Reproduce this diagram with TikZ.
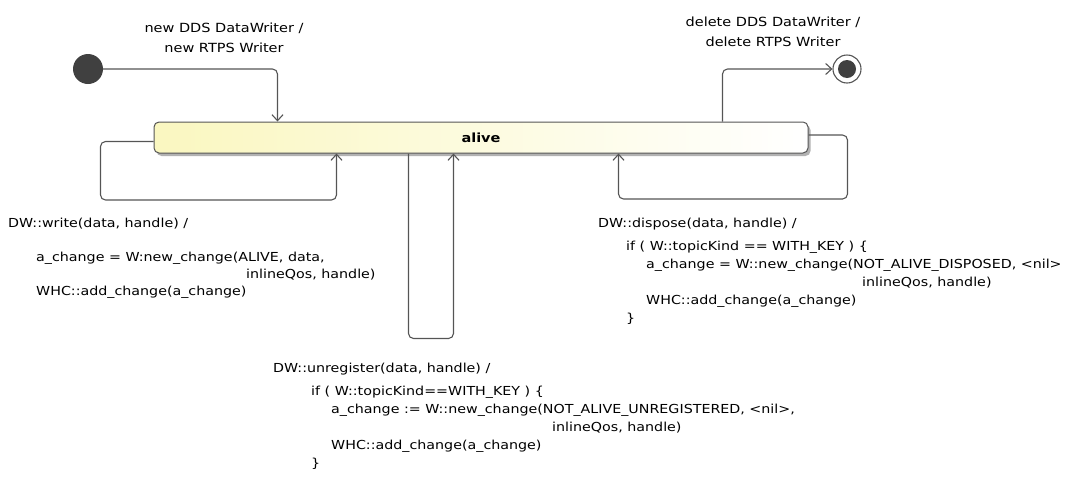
\documentclass[tikz,border=0pt]{standalone}
\usepackage{fontspec}
\setmainfont{DejaVu Sans}[FakeStretch=1.15]
\usepackage{tikz}
\usetikzlibrary{arrows.meta,positioning,shadows}

\definecolor{lineg}{RGB}{85,85,85}
\definecolor{dotg}{RGB}{64,64,64}
\definecolor{alivel}{RGB}{250,247,192}

\tikzset{
	trans/.style={draw=lineg, line width=1.1pt, rounded corners=5pt, -{Straight Barb[length=6pt,width=11pt]}},
	initst/.style={circle, fill=dotg, minimum size=30pt, inner sep=0pt},
	finalst/.style={circle, draw=lineg, line width=1.1pt, fill=white, minimum size=28pt, inner sep=0pt,
		path picture={\fill[dotg] (path picture bounding box.center) circle (9pt);}},
	alivest/.style={rectangle, rounded corners=5pt, draw=lineg, line width=1pt, left color=alivel, right color=white,
		minimum width=654pt, minimum height=31pt, inner sep=0pt, font=\fontsize{12.6}{16}\selectfont\bfseries,
		drop shadow={shadow xshift=2.5pt, shadow yshift=-3pt, fill=black, opacity=.3}},
	lbl/.style={anchor=base west, inner sep=0pt, font=\fontsize{12.4}{18}\selectfont},
	evt/.style={align=center, inner sep=0pt, font=\fontsize{12.6}{20}\selectfont}
}

\begin{document}
\begin{tikzpicture}[x=1pt,y=-1pt]
	\useasboundingbox (0,0) rectangle (1076,480);

	% states
	\node[initst] (init) at (88,69) {};
	\node[alivest] (alive) at (481,137.5) {alive};
	\node[finalst] (final) at (847,69) {};

	% create / delete
	\draw[trans] (init) -| ([xshift=124pt]alive.north west);
	\node[evt] (create) at (224,38) {new DDS DataWriter /\\ new RTPS Writer};
	\draw[trans] ([xshift=569pt]alive.north west) |- (final);
	\node[evt] (delete) at (773,32) {delete DDS DataWriter /\\ delete RTPS Writer};

	% self transitions
	\draw[trans] ([yshift=-4pt]alive.west) -- ++(-53,0) -- ++(0,58.5) -| ([xshift=183pt]alive.south west);
	\draw[trans] ([xshift=255pt]alive.south west) -- ++(0,185) -| ([xshift=300pt]alive.south west);
	\draw[trans] ([yshift=2.5pt]alive.east) -- ++(39,0) -- ++(0,64) -| ([xshift=465pt]alive.south west);

	% write
	\node[lbl] (w1) at (8,227) {DW::write(data, handle) /};
	\node[lbl] (w2) at (36,261) {a\_change = W:new\_change(ALIVE, data,};
	\node[lbl] (w3) at (246,278) {inlineQos, handle)};
	\node[lbl] (w4) at (36,295) {WHC::add\_change(a\_change)};

	% dispose
	\node[lbl] (d1) at (598,227) {DW::dispose(data, handle) /};
	\node[lbl] (d2) at (626,250) {if ( W::topicKind == WITH\_KEY ) \{};
	\node[lbl] (d3) at (646,268) {a\_change = W::new\_change(NOT\_ALIVE\_DISPOSED, <nil>};
	\node[lbl] (d4) at (862,286) {inlineQos, handle)};
	\node[lbl] (d5) at (646,304) {WHC::add\_change(a\_change)};
	\node[lbl] (d6) at (626,322) {\}};

	% unregister
	\node[lbl] (u1) at (273,372) {DW::unregister(data, handle) /};
	\node[lbl] (u2) at (311,395) {if ( W::topicKind==WITH\_KEY ) \{};
	\node[lbl] (u3) at (331,413) {a\_change := W::new\_change(NOT\_ALIVE\_UNREGISTERED, <nil>,};
	\node[lbl] (u4) at (552,431) {inlineQos, handle)};
	\node[lbl] (u5) at (331,449) {WHC::add\_change(a\_change)};
	\node[lbl] (u6) at (311,467) {\}};
\end{tikzpicture}
\end{document}
